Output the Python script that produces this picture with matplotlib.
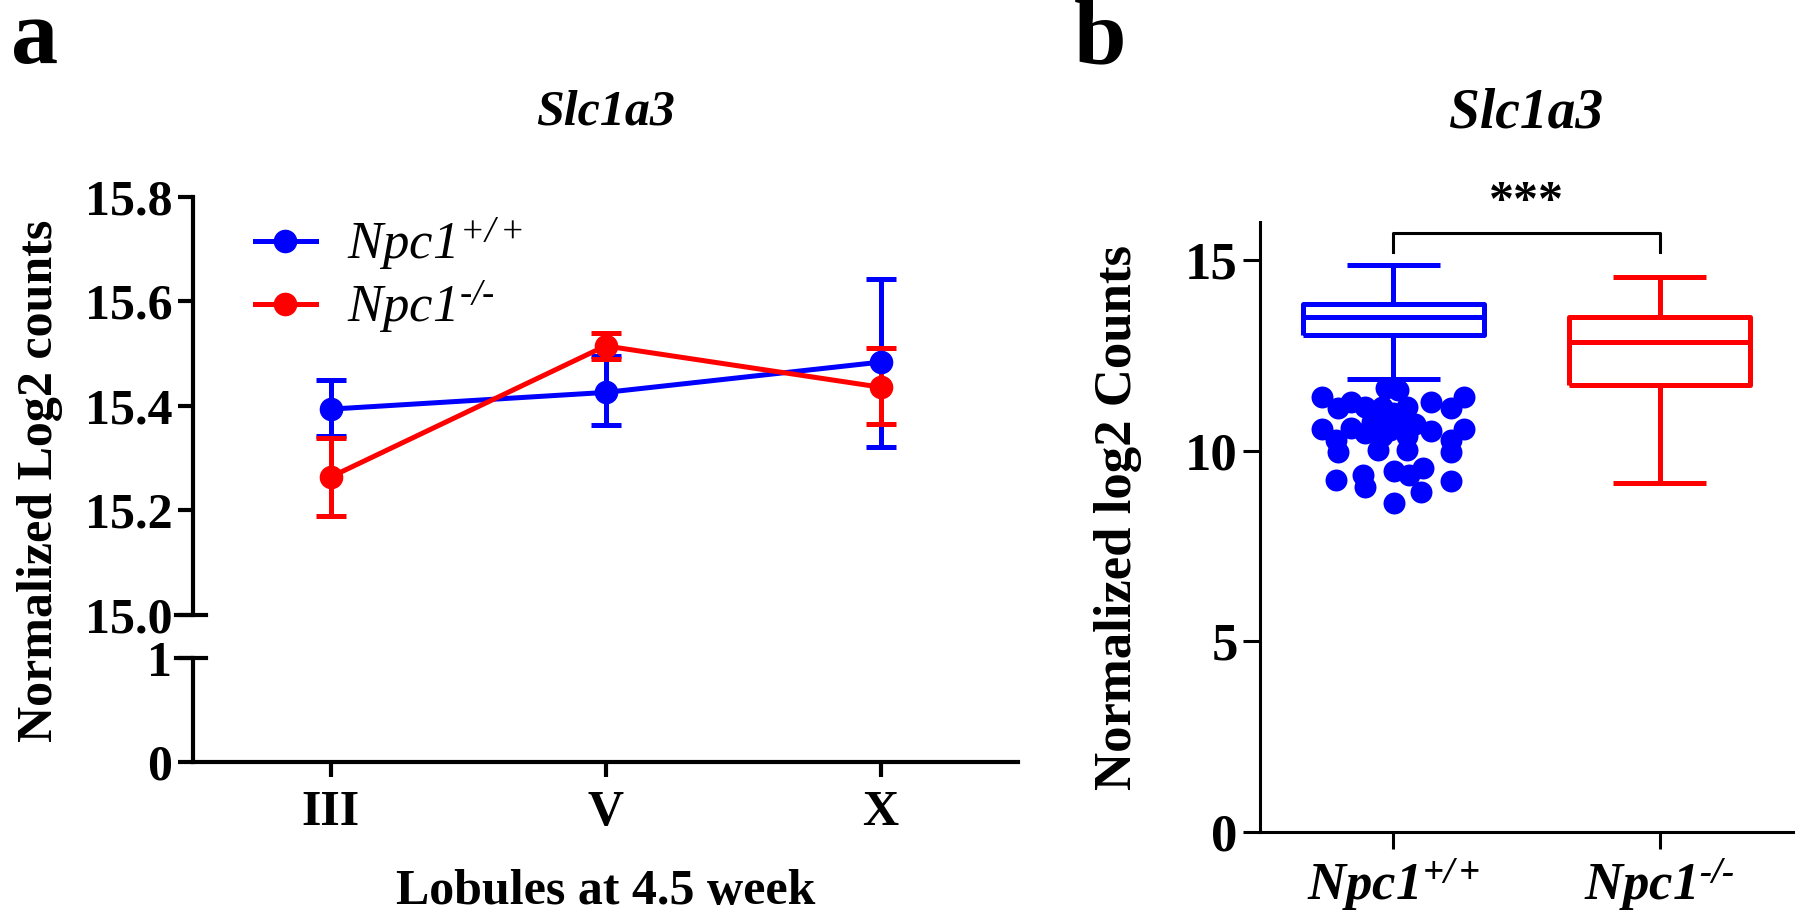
import numpy as np
import matplotlib.pyplot as plt
from matplotlib.lines import Line2D

plt.rcParams['font.family'] = 'Liberation Serif'
plt.rcParams['font.weight'] = 'bold'
plt.rcParams['mathtext.fontset'] = 'custom'
# legend labels are italic throughout (digits included), so rm is the italic face
plt.rcParams['mathtext.rm'] = 'Liberation Serif:style=italic:weight=normal'
plt.rcParams['mathtext.it'] = 'Liberation Serif:style=italic:weight=normal'
plt.rcParams['mathtext.bf'] = 'Liberation Serif:style=italic:weight=bold'

BLUE = '#0000FF'
RED = '#FF0000'
HY = '\u2010'  # short hyphen instead of the math minus

# panel a: mean with error bars per lobule
lobules = ["III", "V", "X"]
wt_mean = [15.394, 15.426, 15.484]
wt_low = [15.342, 15.364, 15.322]
wt_high = [15.450, 15.496, 15.643]
ko_mean = [15.264, 15.515, 15.436]
ko_low = [15.190, 15.490, 15.365]
ko_high = [15.338, 15.540, 15.511]

# panel b: box summaries (whislo, q1, med, q3, whishi)
groups = [r"$\mathbf{Npc1}^{\mathbf{+/+}}$", r"$\mathbf{Npc1}^{\mathbf{" + HY + "/" + HY + "}}$"]
wt_box = [11.89, 13.03, 13.52, 13.86, 14.86]
ko_box = [9.15, 11.73, 12.85, 13.51, 14.57]
wt_out_vals = [11.40, 11.12, 11.29, 11.16, 11.65, 11.60, 11.16, 11.16, 11.29, 11.12,
               11.40, 10.57, 10.29, 10.60, 10.46, 10.38, 10.55, 10.73, 10.38, 10.51,
               10.29, 10.57, 9.98, 10.03, 10.03, 9.98, 9.24, 9.37, 9.06, 9.46,
               9.37, 9.54, 8.93, 9.21, 8.64, 11.00, 10.85, 10.90, 10.70, 10.75]
wt_out_jitter = [-0.266, -0.207, -0.160, -0.106, -0.028, 0.019, -0.044, 0.050, 0.143, 0.218,
                 0.267, -0.266, -0.215, -0.160, -0.106, -0.044, -0.012, 0.019, 0.050, 0.143,
                 0.218, 0.267, -0.207, -0.059, 0.050, 0.218, -0.215, -0.114, -0.106, 0.003,
                 0.058, 0.112, 0.104, 0.218, 0.003, 0.000, -0.020, 0.030, 0.080, -0.080]

W, H = 1800, 923


def box(x0, y0, x1, y1):
    # pixel box (top-left origin) -> figure fraction rect
    return [x0 / W, 1 - y1 / H, (x1 - x0) / W, (y1 - y0) / H]


fig = plt.figure(figsize=(18, 9.23), dpi=100)

ax_top = fig.add_axes(box(193, 197, 1018, 615))
ax_bot = fig.add_axes(box(193, 658, 1018, 762))
ax_b = fig.add_axes(box(1260, 222, 1793, 832))

# ---- panel a
x = np.arange(len(lobules))
for mean, lo, hi, col in [(wt_mean, wt_low, wt_high, BLUE), (ko_mean, ko_low, ko_high, RED)]:
    mean = np.array(mean)
    yerr = [mean - np.array(lo), np.array(hi) - mean]
    ax_top.errorbar(x, mean, yerr=yerr, color=col, lw=3.6, marker='o', ms=16,
                    capsize=11, capthick=3.6, elinewidth=3.6, clip_on=False)

ax_top.set_xlim(-0.5, 2.5)
ax_top.set_ylim(15.0, 15.8)
ax_top.set_yticks([15.0, 15.2, 15.4, 15.6, 15.8])
ax_top.set_yticklabels(["15.0", "15.2", "15.4", "15.6", "15.8"])
ax_top.set_xticks([])
for s in ['top', 'right', 'bottom']:
    ax_top.spines[s].set_visible(False)
ax_top.spines['left'].set_linewidth(3)
ax_top.tick_params(axis='y', width=3, length=11, labelsize=36, pad=4)
ax_top.set_title("Slc1a3", fontsize=36, style='italic', fontweight='bold', pad=52)

ax_bot.set_xlim(-0.5, 2.5)
ax_bot.set_ylim(0, 1)
ax_bot.set_yticks([0, 1])
ax_bot.set_yticklabels(["0", "1"])
ax_bot.set_xticks(x)
ax_bot.set_xticklabels(lobules)
for s in ['top', 'right']:
    ax_bot.spines[s].set_visible(False)
for s in ['left', 'bottom']:
    ax_bot.spines[s].set_linewidth(3)
ax_bot.tick_params(width=3, length=11, labelsize=36, pad=4)
ax_bot.tick_params(axis='x', pad=9)
ax_bot.set_xlabel("Lobules at 4.5 week", fontsize=36, fontweight='bold', labelpad=24)

# axis break marks
for ax, yv in [(ax_top, 15.0), (ax_bot, 1)]:
    ax.plot([-0.021, 0.016], [yv, yv], color='k', lw=3,
            transform=ax.get_yaxis_transform(), clip_on=False)

handles = [Line2D([], [], color=BLUE, lw=3.6, marker='o', ms=16),
           Line2D([], [], color=RED, lw=3.6, marker='o', ms=16)]
fig.legend(handles, [r"$\mathrm{Npc1}^{+/+}$", r"$\mathrm{Npc1}^{" + HY + "/" + HY + "}$"],
           loc='upper left', bbox_to_anchor=(255 / W, 1 - 216 / H),
           frameon=False, borderpad=0, borderaxespad=0, handlelength=1.15,
           handletextpad=0.6, labelspacing=0.1,
           prop={'family': 'Liberation Serif', 'weight': 'normal', 'size': 38})

fig.text(40 / W, 1 - 481 / H, "Normalized Log2 counts", rotation=90,
         ha='center', va='center', fontsize=36)
fig.text(11 / W, 1 - 63 / H, "a", fontsize=68, va='baseline', ha='left')

# ---- panel b
stats = []
for b in [wt_box, ko_box]:
    stats.append(dict(whislo=b[0], q1=b[1], med=b[2], q3=b[3], whishi=b[4], fliers=[]))
bp = ax_b.bxp(stats, positions=[0, 1], widths=0.68, capwidths=0.35, showfliers=False)
for i, col in enumerate([BLUE, RED]):
    for art in [bp['boxes'][i], bp['medians'][i],
                bp['whiskers'][2 * i], bp['whiskers'][2 * i + 1],
                bp['caps'][2 * i], bp['caps'][2 * i + 1]]:
        art.set_color(col)
        art.set_linewidth(3.6)
        art.set_solid_capstyle('butt')

ax_b.scatter(0 + np.array(wt_out_jitter), wt_out_vals, s=250, color=BLUE,
             zorder=3, linewidths=0)

ax_b.plot([0, 0, 1, 1], [15.22, 15.72, 15.72, 15.22], color='k', lw=2.2)
ax_b.text(0.5, 16.5, "***", ha='center', va='center', fontsize=36, clip_on=False)

ax_b.set_xlim(-0.5, 1.5)
ax_b.set_ylim(0, 16)
ax_b.set_yticks([0, 5, 10, 15])
ax_b.set_xticks([0, 1])
ax_b.set_xticklabels(groups)
for s in ['top', 'right']:
    ax_b.spines[s].set_visible(False)
for s in ['left', 'bottom']:
    ax_b.spines[s].set_linewidth(2.2)
ax_b.tick_params(width=2.2, length=12, labelsize=38, pad=4)
ax_b.tick_params(axis='x', pad=6)
ax_b.set_title("Slc1a3", fontsize=40, style='italic', fontweight='bold', pad=68)

fig.text(1118 / W, 1 - 518 / H, "Normalized log2 Counts", rotation=90,
         ha='center', va='center', fontsize=38)
fig.text(1074 / W, 1 - 63 / H, "b", fontsize=68, va='baseline', ha='left')

fig.savefig("out.png", dpi=100)
